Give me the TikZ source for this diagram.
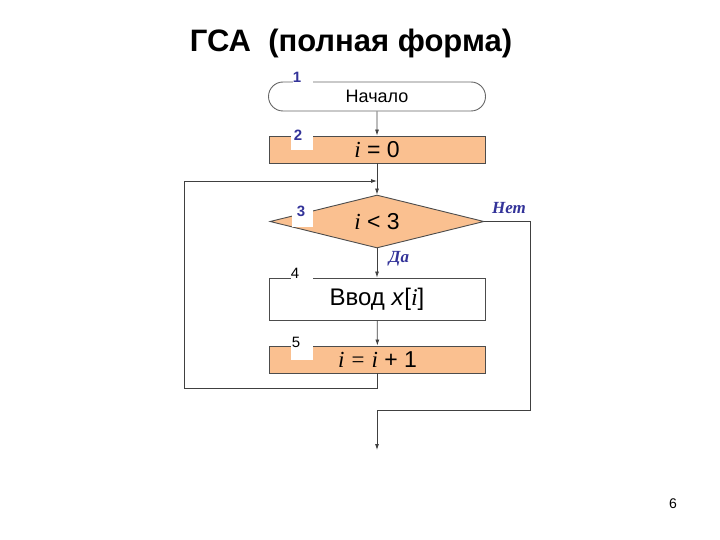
\documentclass[tikz,border=0pt]{standalone}
\usepackage{fontspec}
\setmainfont{Liberation Sans}
\newfontfamily\tms{Liberation Serif}
\usetikzlibrary{shapes.geometric,shapes.misc,arrows.meta}
\definecolor{boxfill}{HTML}{FAC090}
\definecolor{tagblue}{HTML}{333399}
\newcommand{\iv}{{\tms\itshape i}}

\begin{document}
\begin{tikzpicture}
  [x=1pt,y=-1pt,
   term/.style={rounded rectangle,draw=black!60,line width=0.9pt,inner sep=0,
                minimum width=217pt,minimum height=29pt,font=\fontsize{18}{18}\selectfont},
   action/.style={rectangle,draw=black!70,fill=boxfill,line width=0.9pt,inner sep=0,
                  minimum width=216pt,minimum height=27pt,font=\fontsize{23}{23}\selectfont},
   io/.style={rectangle,draw=black!70,fill=white,line width=0.9pt,inner sep=0,
              minimum width=216pt,minimum height=42pt,font=\fontsize{24}{24}\selectfont},
   cond/.style={diamond,aspect=4.04,draw=black!70,fill=boxfill,line width=0.9pt,inner sep=0,
                minimum width=214pt,minimum height=53pt,font=\fontsize{23}{23}\selectfont},
   tagbg/.style={rectangle,fill=white,inner sep=0},
   tag/.style={inner sep=0,font=\fontsize{15}{15}\selectfont\bfseries,text=tagblue},
   plaintag/.style={inner sep=0,font=\fontsize{15}{15}\selectfont},
   answer/.style={inner sep=0,font=\fontsize{17}{17}\selectfont\tms\bfseries\itshape,text=tagblue},
   flow/.style={draw=black!75,line width=0.8pt,-{Latex[length=6pt,width=4pt]}},
   line/.style={draw=black!75,line width=0.8pt}]
  \useasboundingbox (0,0) rectangle (720,540);
  \node[font=\fontsize{31}{31}\selectfont\bfseries] (title) at (351,43) {ГСА~~(полная форма)};
  % blocks
  \node[term] (start) at (377,96.5) {Начало};
  \node[action] (init) at (377,149.5) {\iv{} = 0};
  \node[cond] (check) at (377,221.5) {\iv{} < 3};
  \node[io] (input) at (377,299) {Ввод \textit{x}[\iv]};
  \node[action] (incr) at (377.5,359.5) {{\tms\itshape i = i} + 1};
  % block numbers
  \node[tagbg,minimum width=20pt,minimum height=14pt] (tb1) at (303,78) {};
  \node[tag] (t1) at (297,77) {1};
  \node[tagbg,minimum width=22pt,minimum height=14pt] (tb2) at (302,143) {};
  \node[tag] (t2) at (298,135) {2};
  \node[tagbg,minimum width=21pt,minimum height=25pt] (tb3) at (302.5,214.5) {};
  \node[tag] (t3) at (301,211) {3};
  \node[tagbg,minimum width=22pt,minimum height=6pt] (tb4) at (301.5,278) {};
  \node[plaintag] (t4) at (295,273) {4};
  \node[tagbg,minimum width=22pt,minimum height=14pt] (tb5) at (302,353) {};
  \node[plaintag] (t5) at (296,342) {5};
  % answers
  \node[answer] (no) at (509,208) {Нет};
  \node[answer] (yes) at (399,259) {Да};
  % turning points
  \coordinate (join) at (377,181);
  \coordinate (loopL) at (184,388);
  \coordinate (exitR) at (530,410);
  \coordinate (finish) at (377,450);
  % connectors
  \draw[flow] (start) -- (init);
  \draw[flow] (init) -- (check);
  \draw[flow] (check) -- (input);
  \draw[flow] (input) -- (incr);
  \draw[flow] (incr.south) |- (loopL) |- (join);
  \draw[flow] (check.east) -| (exitR) -| (finish);
  \node[font=\fontsize{14}{14}\selectfont] (page) at (673,504) {6};
\end{tikzpicture}
\end{document}
